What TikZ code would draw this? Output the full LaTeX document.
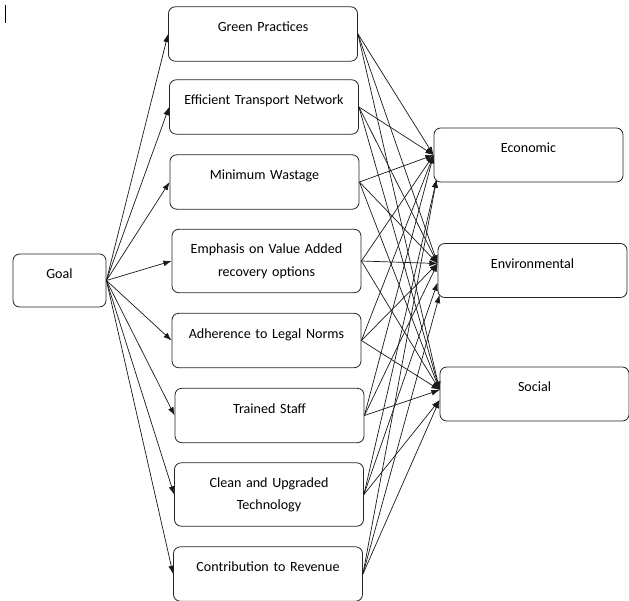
\documentclass[tikz,border=0pt]{standalone}
\usepackage{fontspec}
\setmainfont{Carlito}
\usetikzlibrary{arrows.meta,calc}

\tikzset{
  box/.style={draw=black!85, line width=0.7pt, rounded corners=0.2cm,
    inner xsep=0.1cm, inner ysep=0.1cm, align=center,
    font=\fontsize{12}{19}\selectfont, text height=0.64cm},
  critbox/.style={box, text width=5.47cm, text depth=0.79cm},
  critbox2/.style={box, text width=5.47cm, text depth=1.06cm},
  goalbox/.style={box, text width=2.59cm, text depth=0.75cm},
  outbox/.style={box, text width=5.47cm, text depth=0.78cm},
  arr/.style={-{Latex[length=7pt,width=5pt]}, line width=0.6pt, black!90}
}

\begin{document}
\begin{tikzpicture}[x=0.03cm, y=-0.03cm]
\useasboundingbox (0,0) rectangle (629,601);

% Cursor mark
\draw[line width=0.8pt] (5,5) -- (5,23);

% Goal
\node[goalbox] (goal) at (59.5,280.5) {Goal};

% Criteria
\node[critbox] (green) at (263,34) {Green Practices};
\node[critbox] (transport) at (264,107) {Efficient Transport Network};
\node[critbox] (wastage) at (264.5,182) {Minimum Wastage};
\node[critbox2] (recovery) at (266.5,261) {Emphasis on Value Added\\recovery options};
\node[critbox] (legal) at (266.5,340.5) {Adherence to Legal Norms};
\node[critbox] (staff) at (269.5,415.5) {Trained Staff};
\node[critbox2] (tech) at (269,494.5) {Clean and Upgraded\\Technology};
\node[critbox] (revenue) at (268,574) {Contribution to Revenue};

% Outcomes
\node[outbox] (econ) at (528.5,155) {Economic};
\node[outbox] (env) at (532.5,270.5) {Environmental};
\node[outbox] (social) at (534.5,394) {Social};

% Arrival points on the outcomes
\coordinate (econ-in) at (econ.west);
\coordinate (econ-low) at ($(econ.south west)+(3,-3)$);
\coordinate (env-in) at ($(env.west)+(0,-7)$);
\coordinate (env-mid) at ($(env.west)+(0,12)$);
\coordinate (env-low) at ($(env.south west)+(2,-3)$);
\coordinate (soc-in) at ($(social.west)+(0,-4)$);
\coordinate (soc-low) at ($(social.west)+(0,6)$);

% Goal to criteria
\foreach \n in {green,transport,wastage,recovery,legal,staff,tech,revenue}
  \draw[arr] (goal.east) -- (\n.west);

% Criteria to outcomes
\foreach \n in {green,transport,wastage,recovery,legal,staff} {
  \draw[arr] (\n.east) -- (econ-in);
  \draw[arr] (\n.east) -- (env-in);
  \draw[arr] (\n.east) -- (soc-in);
}
\foreach \n/\e in {tech/env-mid,revenue/env-low} {
  \draw[arr] (\n.east) -- (econ-low);
  \draw[arr] (\n.east) -- (\e);
  \draw[arr] (\n.east) -- (soc-low);
}

\end{tikzpicture}
\end{document}
